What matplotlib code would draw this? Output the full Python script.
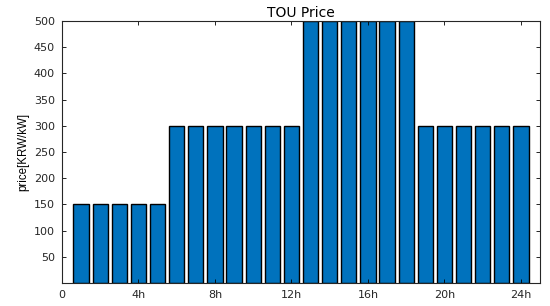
import matplotlib
matplotlib.use("Agg")
import matplotlib.pyplot as plt

hours = list(range(1, 25))
price = [150, 150, 150, 150, 150,
         300, 300, 300, 300, 300, 300, 300,
         500, 500, 500, 500, 500, 500,
         300, 300, 300, 300, 300, 300]
xticks = [0, 4, 8, 12, 16, 20, 24]
xlabels = ["0", "4h", "8h", "12h", "16h", "20h", "24h"]
yticks = [50, 100, 150, 200, 250, 300, 350, 400, 450, 500]

plt.rcParams['font.family'] = ['DejaVu Sans']

fig = plt.figure(figsize=(5.5, 3.06), dpi=100)
ax = fig.add_axes([0.1127, 0.0752, 0.8691, 0.8558])
ax.bar(hours, price, width=0.8, color='#0072BD', edgecolor='black', linewidth=1.0)
ax.set_xlim(0, 25)
ax.set_ylim(0, 500)
ax.set_xticks(xticks)
ax.set_xticklabels(xlabels)
ax.set_yticks(yticks)
ax.tick_params(direction='in', top=True, right=True, labelsize=8, length=3, width=0.6,
               pad=5, labelcolor='#262626')
for s in ax.spines.values():
    s.set_linewidth(0.8)
    s.set_color('#262626')
ax.set_title("TOU Price", fontsize=10, pad=3)
ax.set_ylabel("price[KRW/kW]", fontsize=8.3, family='Liberation Sans', labelpad=3)

fig.savefig("out.png", dpi=100)
